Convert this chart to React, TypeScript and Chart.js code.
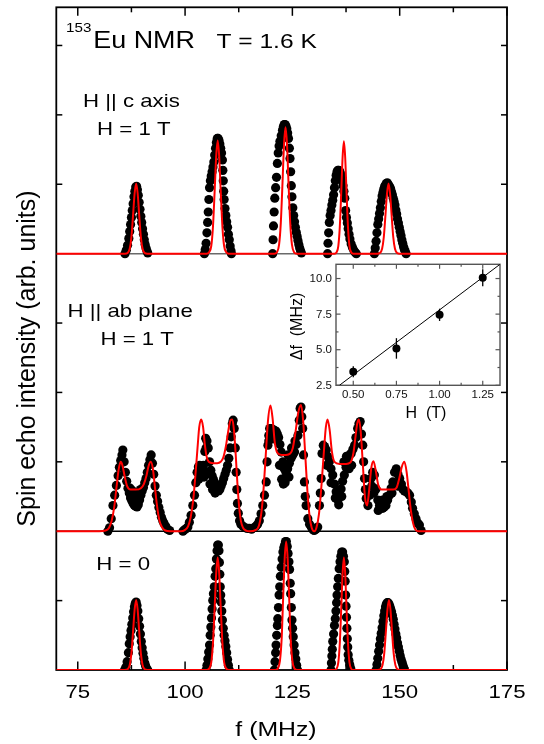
import React, { useEffect, useRef } from 'react';
import { Chart, registerables } from 'chart.js';
Chart.register(...registerables);

// ---------- Axis ticks ----------
const freqMajorTicks = [75, 100, 125, 150, 175];
const freqMinorTicks = [87.5, 112.5, 137.5, 162.5];
const cAxisYTicks = [1, 2, 3];
const abPlaneYTicks = [1, 2, 3];
const zeroFieldYTicks = [1];

// ---------- Panel 1 : H || c axis, H = 1 T ----------
const cAxisDotF = [
  86.0, 86.3, 86.6, 86.9, 87.1, 87.3, 87.5, 87.7, 87.9, 88.1, 88.3, 88.5, 88.7, 88.9, 89.1, 89.3, 89.5, 89.7, 89.9, 90.1, 90.3, 90.5, 90.7, 90.9, 91.1, 91.3,
  104.5, 104.7, 104.9, 105.1, 105.25, 105.4, 105.55, 105.7, 105.9, 106.1, 106.3, 106.5, 106.7, 106.9, 107.1, 107.3, 107.5, 107.7, 107.9, 108.1, 108.3, 108.5, 108.7, 108.8, 108.9, 109.0, 109.1, 109.3, 109.5, 109.7, 109.9, 110.1, 110.3, 110.5, 110.7, 110.8,
  120.4, 120.5, 120.6, 120.75, 120.9, 121.1, 121.3, 121.5, 121.7, 121.9, 122.1, 122.4, 122.7, 122.9, 123.1, 123.3, 123.5, 123.7, 123.9, 124.1, 124.3, 124.45, 124.6, 124.75, 124.9, 125.1, 125.3, 125.5, 125.7, 125.9, 126.1, 126.3, 126.5, 126.7, 126.9, 127.1,
  133.2, 133.3, 133.45, 133.6, 133.8, 134.0, 134.2, 134.4, 134.6, 134.8, 135.0, 135.2, 135.4, 135.6, 135.8, 136.0, 136.2, 136.4, 136.6, 136.8, 137.0, 137.2, 137.4, 137.6, 137.8, 138.0, 138.2, 138.4, 138.7, 139.0, 139.3, 139.6, 139.9,
  144.1, 144.3, 144.5, 144.7, 144.9, 145.1, 145.3, 145.5, 145.7, 145.9, 146.1, 146.3, 146.5, 146.7, 146.9, 147.1, 147.3, 147.5, 147.7, 147.9, 148.1, 148.3, 148.5, 148.7, 148.9, 149.1, 149.3, 149.5, 149.7, 149.9, 150.1, 150.3, 150.5, 150.7, 150.9, 151.1, 151.3, 151.5,
];
const cAxisDotI = [
  0.0, 0.05, 0.12, 0.22, 0.32, 0.42, 0.52, 0.62, 0.72, 0.82, 0.9, 0.96, 0.97, 0.92, 0.84, 0.74, 0.64, 0.54, 0.45, 0.36, 0.28, 0.2, 0.13, 0.08, 0.04, 0.01,
  0.0, 0.06, 0.15, 0.3, 0.45, 0.6, 0.78, 0.95, 1.05, 1.12, 1.18, 1.25, 1.32, 1.42, 1.52, 1.6, 1.66, 1.66, 1.63, 1.58, 1.52, 1.45, 1.35, 1.2, 1.05, 0.9, 0.78, 0.65, 0.55, 0.46, 0.38, 0.28, 0.2, 0.11, 0.04, 0.0,
  0.0, 0.2, 0.4, 0.6, 0.8, 0.95, 1.1, 1.3, 1.45, 1.55, 1.62, 1.7, 1.78, 1.83, 1.86, 1.86, 1.84, 1.8, 1.74, 1.66, 1.52, 1.37, 1.18, 0.98, 0.82, 0.66, 0.55, 0.46, 0.38, 0.31, 0.25, 0.19, 0.13, 0.08, 0.04, 0.01,
  0.0, 0.15, 0.3, 0.45, 0.55, 0.62, 0.7, 0.77, 0.85, 0.95, 1.05, 1.13, 1.18, 1.2, 1.2, 1.19, 1.16, 1.12, 1.05, 0.98, 0.9, 0.8, 0.62, 0.52, 0.44, 0.36, 0.28, 0.21, 0.14, 0.09, 0.05, 0.02, 0.0,
  0.0, 0.08, 0.18, 0.3, 0.42, 0.5, 0.58, 0.66, 0.75, 0.83, 0.88, 0.93, 0.97, 0.99, 1.01, 1.02, 1.0, 0.98, 0.96, 0.93, 0.89, 0.85, 0.8, 0.75, 0.7, 0.63, 0.57, 0.5, 0.44, 0.38, 0.32, 0.26, 0.2, 0.15, 0.1, 0.06, 0.03, 0.0,
];
const cAxisFitF = [
  70, 86.0, 86.6, 87.1, 87.5, 87.9, 88.25, 88.6, 88.95, 89.3, 89.7, 90.1, 90.6, 91.2,
  105.0, 105.6, 106.1, 106.5, 106.9, 107.25, 107.6, 107.95, 108.3, 108.7, 109.1, 109.6, 110.2,
  120.8, 121.4, 121.9, 122.3, 122.7, 123.05, 123.4, 123.75, 124.1, 124.5, 124.9, 125.4, 126.0,
  134.8, 135.3, 135.7, 136.05, 136.4, 136.7, 137.0, 137.3, 137.6, 137.95, 138.3, 138.7, 139.2,
  144.8, 145.4, 145.9, 146.3, 146.7, 147.05, 147.4, 147.75, 148.1, 148.5, 148.9, 149.4, 150.0, 175,
];
const cAxisFitI = [
  0, 0, 0.01, 0.07, 0.24, 0.57, 0.87, 1.01, 0.87, 0.57, 0.24, 0.07, 0.01, 0,
  0, 0.02, 0.11, 0.39, 0.91, 1.4, 1.63, 1.4, 0.91, 0.39, 0.11, 0.02, 0,
  0, 0.02, 0.13, 0.44, 1.02, 1.57, 1.82, 1.57, 1.02, 0.44, 0.13, 0.02, 0,
  0, 0.02, 0.11, 0.39, 0.91, 1.39, 1.62, 1.39, 0.91, 0.39, 0.11, 0.02, 0,
  0, 0.01, 0.07, 0.24, 0.57, 0.87, 1.01, 0.87, 0.57, 0.24, 0.07, 0.01, 0, 0,
];

// ---------- Panel 2 : H || ab plane, H = 1 T ----------
const abPlaneDotF = [
  82.0, 82.4, 82.8, 83.2, 83.6, 84.0, 84.4, 84.7, 85.0, 85.3, 85.5, 85.8, 86.1, 86.4, 86.7, 87.0, 87.3, 87.6, 87.9, 88.2, 88.5, 88.8, 89.1, 89.4, 89.7, 90.0, 90.3, 90.6, 90.9, 91.2, 91.5, 91.8, 92.1, 92.4, 92.7, 93.0, 93.3, 93.6, 93.9, 94.2, 94.5, 94.8, 95.1, 95.5, 95.9, 96.4,
  87.2, 87.8, 88.4, 89.0, 89.6, 88.0, 88.9,
  99.5, 99.9, 100.3, 100.65, 101.0, 101.4, 101.8, 102.2, 102.5, 102.8, 103.1, 103.4, 103.7, 104.0, 104.3, 104.6, 104.8, 105.1, 105.4, 105.7, 106.0, 106.3, 106.6, 106.9, 107.2, 107.5, 107.8, 108.1, 108.4, 108.7, 109.0, 109.3, 109.6, 109.9, 110.2, 110.5, 110.75, 111.0, 111.2, 111.45, 111.7, 111.9, 112.05, 112.2, 112.4, 112.7, 113.0, 113.5, 114.0, 114.5, 115.0, 115.5, 116.0, 116.5, 116.9,
  103.2, 103.8, 104.4, 105.0, 105.8, 106.4, 107.0, 104.9,
  117.3, 117.7, 118.1, 118.5, 118.9, 119.1, 119.3, 119.5, 119.7, 120.0, 120.3, 120.6, 120.9, 121.2, 121.5, 121.8, 122.1, 122.4, 122.8, 123.1, 123.5, 123.9, 124.3, 124.7, 125.1, 125.5, 125.9, 126.3, 126.6, 126.8, 127.0, 127.2, 127.4, 127.6, 127.8, 128.0, 128.2, 128.6, 129.0, 129.4, 129.8, 130.1, 130.5, 130.9,
  122.0, 122.5, 122.9, 123.3, 123.8, 124.2, 124.0, 124.8, 125.6, 119.5, 120.5, 121.5,
  131.3, 131.5, 131.7, 131.9, 132.2, 132.5, 132.9, 133.2, 133.6, 134.0, 134.4, 134.8, 135.2, 135.6, 136.0, 136.35, 136.7, 137.1, 137.5, 137.9, 138.3, 138.7, 139.1, 139.5, 139.8, 140.2, 140.5, 140.8, 141.1, 141.4, 141.6, 141.8, 142.0, 142.2, 142.6,
  133.0, 134.0, 135.0, 135.8, 136.5, 137.0, 137.6, 138.2, 138.8,
  143.0, 143.3, 143.7, 144.1, 144.5, 144.9, 145.3, 145.7, 146.05, 146.4, 146.8, 147.2, 147.6, 148.0, 148.4, 148.8, 149.2, 149.6, 150.0, 150.4, 150.7, 151.1, 151.5, 151.9, 152.3, 152.7, 153.0, 153.4, 153.8, 154.2, 154.6, 155.0,
  143.5, 144.0, 145.0, 146.0, 147.0, 148.2, 149.5,
];
const abPlaneDotI = [
  0.0, 0.05, 0.18, 0.37, 0.52, 0.66, 0.8, 0.92, 1.02, 1.1, 1.17, 1.0, 0.85, 0.72, 0.62, 0.55, 0.48, 0.44, 0.4, 0.37, 0.36, 0.35, 0.38, 0.45, 0.52, 0.58, 0.63, 0.7, 0.76, 0.85, 0.95, 1.03, 1.1, 0.98, 0.82, 0.65, 0.52, 0.43, 0.34, 0.27, 0.2, 0.15, 0.11, 0.07, 0.03, 0.01,
  0.62, 0.58, 0.55, 0.56, 0.6, 0.5, 0.48,
  0.0, 0.02, 0.04, 0.06, 0.13, 0.23, 0.37, 0.52, 0.7, 0.85, 0.93, 0.95, 0.92, 0.9, 0.95, 1.15, 1.34, 1.3, 1.2, 1.0, 0.88, 0.8, 0.75, 0.7, 0.66, 0.62, 0.58, 0.6, 0.65, 0.7, 0.76, 0.82, 0.88, 0.95, 1.05, 1.2, 1.36, 1.55, 1.6, 1.48, 1.2, 0.85, 0.6, 0.4, 0.26, 0.15, 0.1, 0.07, 0.05, 0.04, 0.04, 0.03, 0.05, 0.07, 0.1,
  0.75, 0.8, 0.78, 0.85, 0.68, 0.6, 0.55, 1.2,
  0.15, 0.25, 0.37, 0.52, 0.71, 1.0, 1.24, 1.38, 1.48, 1.48, 1.47, 1.46, 1.45, 1.44, 1.4, 1.35, 1.25, 1.14, 1.0, 0.9, 0.85, 0.9, 0.98, 1.05, 1.1, 1.14, 1.25, 1.38, 1.6, 1.77, 1.79, 1.65, 1.48, 1.1, 0.71, 0.5, 0.37, 0.18, 0.1, 0.06, 0.02, 0.01, 0.03, 0.06,
  0.95, 0.75, 0.68, 0.7, 0.8, 0.78, 1.1, 1.2, 1.3, 1.3, 1.35, 1.3,
  0.37, 0.55, 0.76, 1.12, 1.24, 1.22, 1.17, 1.08, 1.0, 0.9, 0.81, 0.68, 0.57, 0.45, 0.5, 0.61, 0.72, 0.81, 0.92, 1.05, 1.1, 1.12, 1.18, 1.24, 1.35, 1.48, 1.55, 1.58, 1.4, 1.24, 1.0, 0.76, 0.6, 0.47, 0.37,
  0.95, 0.7, 0.48, 0.38, 0.5, 1.0, 1.08, 0.9, 0.95,
  0.52, 0.76, 0.85, 0.81, 0.61, 0.45, 0.37, 0.34, 0.33, 0.35, 0.37, 0.45, 0.52, 0.62, 0.71, 0.85, 0.9, 0.82, 0.76, 0.68, 0.61, 0.58, 0.57, 0.55, 0.52, 0.42, 0.33, 0.25, 0.18, 0.12, 0.09, 0.01,
  0.65, 0.55, 0.3, 0.45, 0.5, 0.55, 0.65,
];
const abPlaneFitF = [
  70, 80.0, 81.5, 82.3, 82.9, 83.5, 84.0, 84.5, 85.0, 85.4, 85.9, 86.5, 87.3, 88.5, 89.7, 90.4, 91.0, 91.5, 92.0, 92.5, 93.0, 93.5, 94.0, 94.6, 95.4, 96.5,
  99.0, 100.0, 100.7, 101.3, 101.9, 102.4, 102.9, 103.3, 103.75, 104.2, 104.6, 105.0, 105.5, 106.5, 107.5, 108.3, 108.9, 109.5, 110.0, 110.6, 111.0, 111.4, 111.8, 112.2, 112.6, 113.0, 113.5, 114.2, 115.0,
  116.5, 117.2, 117.8, 118.3, 118.8, 119.3, 119.9, 120.4, 120.9, 121.5, 122.5, 123.5, 124.5, 125.1, 125.7, 126.4, 127.0, 127.5, 128.0, 128.5, 129.0, 129.5, 130.1,
  130.6, 131.2, 131.8, 132.4, 132.8, 133.2, 133.7, 134.2, 134.8, 136.0, 137.5, 138.5, 139.2, 139.7, 140.1, 140.5, 140.9, 141.4, 141.9, 142.4,
  142.9, 143.4, 143.9, 144.4, 145.0, 145.8, 147.0, 148.5, 149.3, 149.9, 150.5, 151.1, 151.6, 152.1, 152.6, 153.1, 153.6, 154.3, 175,
];
const abPlaneFitI = [
  0, 0, 0.01, 0.05, 0.15, 0.35, 0.62, 0.88, 1.0, 0.95, 0.8, 0.65, 0.6, 0.6, 0.62, 0.68, 0.8, 0.94, 1.0, 0.9, 0.62, 0.35, 0.16, 0.06, 0.01, 0,
  0, 0.02, 0.07, 0.2, 0.45, 0.8, 1.2, 1.5, 1.61, 1.5, 1.25, 1.08, 1.0, 0.98, 0.98, 1.0, 1.06, 1.22, 1.42, 1.6, 1.61, 1.45, 1.1, 0.68, 0.35, 0.15, 0.05, 0.01, 0,
  0.02, 0.08, 0.28, 0.62, 1.1, 1.58, 1.81, 1.62, 1.28, 1.13, 1.1, 1.1, 1.12, 1.2, 1.42, 1.72, 1.82, 1.6, 1.1, 0.58, 0.22, 0.05, 0,
  0.05, 0.25, 0.68, 1.2, 1.5, 1.61, 1.45, 1.15, 1.0, 0.97, 0.97, 0.99, 1.12, 1.36, 1.55, 1.61, 1.45, 0.98, 0.5, 0.37,
  0.6, 0.92, 1.01, 0.88, 0.67, 0.6, 0.6, 0.6, 0.63, 0.76, 0.93, 1.0, 0.86, 0.58, 0.3, 0.12, 0.03, 0, 0,
];

// ---------- Panel 3 : H = 0 ----------
const zeroFieldDotF = [
  85.9, 86.2, 86.5, 86.8, 87.0, 87.2, 87.4, 87.6, 87.8, 88.0, 88.2, 88.4, 88.6, 88.8, 89.0, 89.2, 89.4, 89.6, 89.8, 90.0, 90.2, 90.4, 90.6, 90.8, 91.0, 91.3,
  104.9, 105.1, 105.3, 105.5, 105.7, 105.85, 106.0, 106.15, 106.3, 106.45, 106.6, 106.8, 107.0, 107.15, 107.3, 107.45, 107.6, 107.75, 107.9, 108.0, 108.1, 108.2, 108.3, 108.4, 108.55, 108.7, 108.9, 109.1, 109.3, 109.5, 109.7, 109.9, 110.1, 110.3,
  120.8, 120.95, 121.1, 121.2, 121.35, 121.5, 121.6, 121.75, 121.9, 122.05, 122.2, 122.4, 122.6, 122.8, 123.0, 123.2, 123.4, 123.6, 123.8, 124.0, 124.2, 124.35, 124.5, 124.6, 124.75, 124.9, 125.05, 125.2, 125.4, 125.6, 125.8, 126.0, 126.2,
  134.0, 134.1, 134.2, 134.3, 134.4, 134.6, 134.8, 135.0, 135.15, 135.3, 135.4, 135.55, 135.7, 135.9, 136.1, 136.3, 136.5, 136.7, 136.9, 137.1, 137.2, 137.3, 137.4, 137.5, 137.6, 137.7, 137.8, 137.9, 138.0, 138.15, 138.35, 138.6,
  144.5, 144.7, 144.9, 145.1, 145.3, 145.5, 145.7, 145.9, 146.1, 146.3, 146.5, 146.7, 146.9, 147.1, 147.3, 147.5, 147.7, 147.9, 148.1, 148.3, 148.5, 148.7, 148.9, 149.1, 149.3, 149.5, 149.7, 149.9, 150.1, 150.3, 150.5, 150.7, 150.9, 151.1,
];
const zeroFieldDotI = [
  0.0, 0.04, 0.12, 0.25, 0.38, 0.48, 0.57, 0.66, 0.75, 0.84, 0.91, 0.96, 0.98, 0.93, 0.85, 0.74, 0.63, 0.52, 0.41, 0.32, 0.24, 0.17, 0.1, 0.06, 0.03, 0.0,
  0.0, 0.07, 0.16, 0.26, 0.36, 0.5, 0.62, 0.75, 0.88, 1.0, 1.1, 1.2, 1.35, 1.46, 1.6, 1.72, 1.8, 1.8, 1.72, 1.55, 1.38, 1.2, 1.08, 0.98, 0.85, 0.72, 0.6, 0.5, 0.42, 0.34, 0.25, 0.15, 0.07, 0.0,
  0.0, 0.12, 0.25, 0.36, 0.5, 0.64, 0.74, 0.9, 1.08, 1.2, 1.35, 1.48, 1.6, 1.7, 1.76, 1.8, 1.85, 1.85, 1.78, 1.68, 1.56, 1.45, 1.25, 1.1, 0.9, 0.72, 0.6, 0.48, 0.36, 0.25, 0.16, 0.07, 0.0,
  0.0, 0.1, 0.2, 0.3, 0.41, 0.52, 0.64, 0.74, 0.85, 0.97, 1.08, 1.2, 1.32, 1.46, 1.56, 1.64, 1.7, 1.7, 1.64, 1.56, 1.42, 1.28, 1.08, 0.92, 0.76, 0.6, 0.45, 0.33, 0.22, 0.14, 0.08, 0.02,
  0.0, 0.08, 0.17, 0.27, 0.36, 0.45, 0.53, 0.61, 0.7, 0.78, 0.85, 0.91, 0.95, 0.97, 0.97, 0.95, 0.92, 0.88, 0.84, 0.79, 0.73, 0.66, 0.59, 0.52, 0.46, 0.39, 0.33, 0.27, 0.21, 0.16, 0.12, 0.08, 0.04, 0.01,
];
const zeroFieldFitF = [
  70, 86.0, 86.6, 87.1, 87.5, 87.9, 88.25, 88.6, 88.95, 89.3, 89.7, 90.1, 90.6, 91.2,
  105.0, 105.6, 106.1, 106.5, 106.9, 107.25, 107.6, 107.95, 108.3, 108.7, 109.1, 109.6, 110.2,
  121.0, 121.6, 122.1, 122.5, 122.85, 123.2, 123.55, 123.9, 124.25, 124.6, 125.0, 125.5, 126.1,
  134.8, 135.3, 135.7, 136.05, 136.4, 136.7, 137.0, 137.3, 137.6, 137.95, 138.3, 138.7, 139.2,
  144.9, 145.5, 146.0, 146.4, 146.8, 147.15, 147.5, 147.85, 148.2, 148.6, 149.0, 149.5, 150.1, 175,
];
const zeroFieldFitI = [
  0, 0, 0.01, 0.07, 0.24, 0.57, 0.87, 1.01, 0.87, 0.57, 0.24, 0.07, 0.01, 0,
  0, 0.02, 0.11, 0.39, 0.91, 1.39, 1.62, 1.39, 0.91, 0.39, 0.11, 0.02, 0,
  0, 0.02, 0.13, 0.45, 1.04, 1.6, 1.85, 1.6, 1.04, 0.45, 0.13, 0.02, 0,
  0, 0.02, 0.11, 0.39, 0.91, 1.39, 1.62, 1.39, 0.91, 0.39, 0.11, 0.02, 0,
  0, 0.01, 0.07, 0.24, 0.57, 0.87, 1.01, 0.87, 0.57, 0.24, 0.07, 0.01, 0, 0,
];

// ---------- Inset : splitting vs field ----------
const insetH = [0.5, 0.75, 1.0, 1.25];
const insetDf = [3.45, 5.09, 7.45, 10.05];
const insetErr = [0.38, 0.72, 0.43, 0.6];
const insetFitH = [0.42, 1.35];
const insetFitDf = [2.5, 11.0];
const insetXMajor = [0.5, 0.75, 1.0, 1.25];
const insetXMinor = [0.625, 0.875, 1.125];
const insetXLabels = ['0.50', '0.75', '1.00', '1.25'];
const insetYMajor = [2.5, 5.0, 7.5, 10.0];
const insetYMinor = [3.75, 6.25, 8.75];
const insetYLabels = ['2.5', '5.0', '7.5', '10.0'];

const FONT = '"Liberation Sans", Arial, Helvetica, sans-serif';

const pts = (xs: number[], ys: number[]) => xs.map((x, i) => ({ x, y: ys[i] }));

function label(
  ctx: CanvasRenderingContext2D,
  s: string,
  x: number,
  y: number,
  size: number,
  align: CanvasTextAlign = 'left',
  sx = 1.17,
) {
  ctx.save();
  ctx.translate(x, y);
  ctx.scale(sx, 1);
  ctx.font = `${size}px ${FONT}`;
  ctx.textAlign = align;
  ctx.textBaseline = 'alphabetic';
  ctx.fillStyle = '#000';
  ctx.fillText(s, 0, 0);
  ctx.restore();
}

function seg(ctx: CanvasRenderingContext2D, x1: number, y1: number, x2: number, y2: number) {
  ctx.beginPath();
  ctx.moveTo(x1, y1);
  ctx.lineTo(x2, y2);
  ctx.stroke();
}

const mainDecor = {
  id: 'mainDecor',
  beforeDatasetsDraw(chart: any) {
    const { ctx, chartArea: a, scales } = chart;
    const x = scales.x;
    ctx.save();
    ctx.lineWidth = 1.5;
    ctx.strokeStyle = '#6a6a6a';
    const s1 = scales.y1.getPixelForValue(0);
    seg(ctx, a.left, s1, a.right, s1);
    ctx.strokeStyle = '#000';
    const s2 = scales.y2.getPixelForValue(0);
    seg(ctx, a.left, s2, a.right, s2);
    const ySets: [any, number[]][] = [
      [scales.y1, cAxisYTicks],
      [scales.y2, abPlaneYTicks],
      [scales.y3, zeroFieldYTicks],
    ];
    for (const [sc, ticks] of ySets) {
      for (const v of ticks) {
        const py = sc.getPixelForValue(v);
        seg(ctx, a.left, py, a.left + 6, py);
        seg(ctx, a.right - 6, py, a.right, py);
      }
    }
    for (const v of freqMajorTicks) {
      const px = x.getPixelForValue(v);
      seg(ctx, px, a.top, px, a.top + 8.5);
      seg(ctx, px, a.bottom, px, a.bottom - 8.5);
    }
    for (const v of freqMinorTicks) {
      const px = x.getPixelForValue(v);
      seg(ctx, px, a.top, px, a.top + 5);
      seg(ctx, px, a.bottom, px, a.bottom - 5);
    }
    ctx.lineWidth = 1.8;
    ctx.strokeRect(a.left, a.top, a.right - a.left, a.bottom - a.top);
    ctx.restore();
  },
  afterDatasetsDraw(chart: any) {
    const { ctx, chartArea: a, scales } = chart;
    const x = scales.x;
    for (const v of freqMajorTicks) {
      label(ctx, String(v), x.getPixelForValue(v), a.bottom + 28.3, 19, 'center');
    }
    label(ctx, 'f (MHz)', 276, 735.7, 20, 'center', 1.24);
    ctx.save();
    ctx.translate(34.5, 358.5);
    ctx.rotate(-Math.PI / 2);
    ctx.font = `25px ${FONT}`;
    ctx.textAlign = 'center';
    ctx.textBaseline = 'alphabetic';
    ctx.fillStyle = '#000';
    ctx.fillText('Spin echo intensity (arb. units)', 0, 0);
    ctx.restore();
    label(ctx, '153', 66, 32.3, 13);
    label(ctx, 'Eu NMR', 93.3, 48.3, 23);
    label(ctx, 'T = 1.6 K', 216.4, 48.3, 21);
    label(ctx, 'H || c axis', 83, 106.7, 19);
    label(ctx, 'H = 1 T', 97, 135, 19);
    label(ctx, 'H || ab plane', 67.5, 316.7, 19);
    label(ctx, 'H = 1 T', 100.4, 345, 19);
    label(ctx, 'H = 0', 96.3, 569.5, 19);
  },
};

const insetDecor = {
  id: 'insetDecor',
  beforeDatasetsDraw(chart: any) {
    const { ctx, chartArea: a, scales } = chart;
    const x = scales.x;
    const y = scales.y;
    ctx.save();
    ctx.strokeStyle = '#555';
    ctx.lineWidth = 1.2;
    for (const v of insetXMajor) {
      const px = x.getPixelForValue(v);
      seg(ctx, px, a.bottom, px, a.bottom - 4.5);
      seg(ctx, px, a.top, px, a.top + 4.5);
    }
    for (const v of insetXMinor) {
      const px = x.getPixelForValue(v);
      seg(ctx, px, a.bottom, px, a.bottom - 2.5);
      seg(ctx, px, a.top, px, a.top + 2.5);
    }
    for (const v of insetYMajor) {
      const py = y.getPixelForValue(v);
      seg(ctx, a.left, py, a.left + 4.5, py);
      seg(ctx, a.right, py, a.right - 4.5, py);
    }
    for (const v of insetYMinor) {
      const py = y.getPixelForValue(v);
      seg(ctx, a.left, py, a.left + 2.5, py);
      seg(ctx, a.right, py, a.right - 2.5, py);
    }
    ctx.lineWidth = 1.4;
    ctx.strokeRect(a.left, a.top, a.right - a.left, a.bottom - a.top);
    ctx.strokeStyle = '#000';
    ctx.lineWidth = 1.3;
    insetH.forEach((h, i) => {
      const px = x.getPixelForValue(h);
      seg(ctx, px, y.getPixelForValue(insetDf[i] - insetErr[i]), px, y.getPixelForValue(insetDf[i] + insetErr[i]));
    });
    ctx.restore();
  },
  afterDatasetsDraw(chart: any) {
    const { ctx, chartArea: a, scales } = chart;
    const x = scales.x;
    const y = scales.y;
    ctx.save();
    ctx.fillStyle = '#111';
    ctx.font = `11.5px ${FONT}`;
    ctx.textAlign = 'right';
    ctx.textBaseline = 'middle';
    insetYMajor.forEach((v, i) => ctx.fillText(insetYLabels[i], a.left - 4, y.getPixelForValue(v) + 0.5));
    ctx.textAlign = 'center';
    ctx.textBaseline = 'alphabetic';
    insetXMajor.forEach((v, i) => ctx.fillText(insetXLabels[i], x.getPixelForValue(v), a.bottom + 12.5));
    ctx.font = `16px ${FONT}`;
    ctx.fillStyle = '#000';
    ctx.fillText('H  (T)', 146, 168.3);
    ctx.translate(21.5, 76.5);
    ctx.rotate(-Math.PI / 2);
    ctx.fillText('\u0394f  (MHz)', 0, 0);
    ctx.restore();
  },
};

export default function App() {
  const mainRef = useRef<HTMLCanvasElement>(null);
  const insetRef = useRef<HTMLCanvasElement>(null);

  useEffect(() => {
    const dots = (f: number[], i: number[], axis: string) => ({
      type: 'scatter' as const,
      data: pts(f, i),
      xAxisID: 'x',
      yAxisID: axis,
      showLine: false,
      pointRadius: 4.6,
      pointBackgroundColor: '#000',
      pointBorderWidth: 0,
      order: 2,
    });
    const fit = (f: number[], i: number[], axis: string) => ({
      type: 'line' as const,
      data: pts(f, i),
      xAxisID: 'x',
      yAxisID: axis,
      borderColor: '#ff0000',
      borderWidth: 2,
      pointRadius: 0,
      fill: false,
      cubicInterpolationMode: 'monotone' as const,
      order: 1,
    });

    const main = new Chart(mainRef.current!, {
      type: 'scatter',
      data: {
        datasets: [
          dots(cAxisDotF, cAxisDotI, 'y1'),
          dots(abPlaneDotF, abPlaneDotI, 'y2'),
          dots(zeroFieldDotF, zeroFieldDotI, 'y3'),
          fit(cAxisFitF, cAxisFitI, 'y1'),
          fit(abPlaneFitF, abPlaneFitI, 'y2'),
          fit(zeroFieldFitF, zeroFieldFitI, 'y3'),
        ] as any,
      },
      options: {
        animation: false,
        responsive: false,
        devicePixelRatio: 1,
        events: [],
        layout: { padding: { left: 56.3, right: 37, top: 7.3, bottom: 74 } },
        plugins: { legend: { display: false }, tooltip: { enabled: false } },
        scales: {
          x: { type: 'linear', min: 70, max: 175, display: false },
          y1: { type: 'linear', min: -6, max: 3.55, display: false },
          y2: { type: 'linear', min: -2, max: 7.55, display: false },
          y3: { type: 'linear', min: 0, max: 9.55, display: false },
        },
      },
      plugins: [mainDecor],
    });

    const inset = new Chart(insetRef.current!, {
      type: 'scatter',
      data: {
        datasets: [
          {
            type: 'line',
            data: pts(insetFitH, insetFitDf),
            borderColor: '#000',
            borderWidth: 1,
            pointRadius: 0,
            fill: false,
            order: 2,
          },
          {
            data: pts(insetH, insetDf),
            pointRadius: 4,
            pointBackgroundColor: '#000',
            pointBorderWidth: 0,
            order: 1,
          },
        ] as any,
      },
      options: {
        animation: false,
        responsive: false,
        devicePixelRatio: 1,
        events: [],
        layout: { padding: { left: 56, right: 20, top: 14.3, bottom: 44.7 } },
        plugins: { legend: { display: false }, tooltip: { enabled: false } },
        scales: {
          x: { type: 'linear', min: 0.4, max: 1.35, display: false },
          y: { type: 'linear', min: 2.5, max: 11, display: false },
        },
      },
      plugins: [insetDecor],
    });

    return () => {
      main.destroy();
      inset.destroy();
    };
  }, []);

  return (
    <div style={{ position: 'absolute', left: 0, top: 0, width: 544, height: 744, background: '#fff' }}>
      <canvas ref={mainRef} width={544} height={744} style={{ position: 'absolute', left: 0, top: 0 }} />
      <canvas ref={insetRef} width={240} height={180} style={{ position: 'absolute', left: 280, top: 250 }} />
    </div>
  );
}
